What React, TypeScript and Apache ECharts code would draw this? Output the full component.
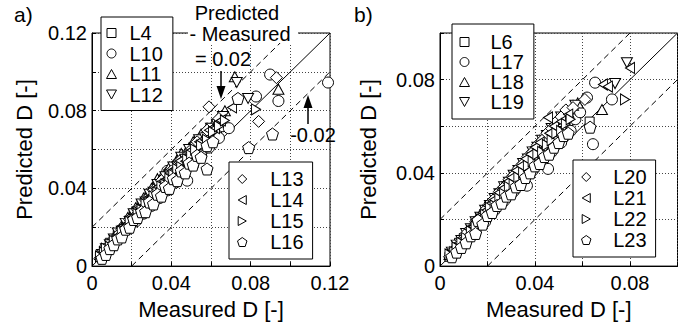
import React, { useEffect, useRef } from "react";
import * as echarts from "echarts";

// ---------- data ----------
const namesA = ["L4", "L10", "L11", "L12", "L13", "L14", "L15", "L16"];
const namesB = ["L6", "L17", "L18", "L19", "L20", "L21", "L22", "L23"];

const L4 = [[0.004,0.005],[0.005,0.006],[0.006,0.008],[0.008,0.009],[0.009,0.012],[0.011,0.013],[0.013,0.016],[0.015,0.018],[0.017,0.021],[0.019,0.022],[0.021,0.027],[0.023,0.027],[0.025,0.032],[0.027,0.031],[0.029,0.036],[0.031,0.037],[0.033,0.040],[0.035,0.041],[0.037,0.045],[0.039,0.044],[0.041,0.050],[0.043,0.049],[0.046,0.054],[0.048,0.055],[0.050,0.059],[0.052,0.058],[0.054,0.064],[0.057,0.063],[0.060,0.069],[0.063,0.070]];
const L10 = [[0.005,0.005],[0.006,0.006],[0.007,0.008],[0.009,0.009],[0.010,0.012],[0.012,0.013],[0.014,0.016],[0.016,0.020],[0.018,0.019],[0.020,0.024],[0.022,0.023],[0.024,0.028],[0.026,0.027],[0.028,0.032],[0.030,0.031],[0.032,0.036],[0.034,0.035],[0.036,0.040],[0.038,0.039],[0.038,0.049],[0.040,0.044],[0.042,0.043],[0.044,0.048],[0.046,0.047],[0.048,0.044],[0.049,0.053],[0.051,0.052],[0.053,0.058],[0.055,0.057],[0.057,0.062],[0.059,0.061],[0.061,0.067],[0.064,0.066],[0.066,0.072],[0.069,0.071],[0.0827,0.0873],[0.0898,0.0986],[0.094,0.085],[0.119,0.0945]];
const L11 = [[0.004,0.006],[0.006,0.008],[0.008,0.010],[0.010,0.013],[0.012,0.016],[0.014,0.019],[0.016,0.021],[0.018,0.025],[0.020,0.027],[0.022,0.030],[0.024,0.031],[0.026,0.035],[0.028,0.037],[0.030,0.040],[0.032,0.041],[0.033,0.045],[0.035,0.046],[0.037,0.048],[0.039,0.051],[0.041,0.052],[0.043,0.055],[0.045,0.058],[0.047,0.058],[0.049,0.061],[0.051,0.064],[0.053,0.065],[0.055,0.068],[0.058,0.071],[0.061,0.073],[0.064,0.077],[0.067,0.080],[0.072,0.0975],[0.094,0.091]];
const L12 = [[0.005,0.006],[0.007,0.009],[0.009,0.011],[0.011,0.014],[0.013,0.017],[0.015,0.018],[0.017,0.022],[0.019,0.023],[0.021,0.027],[0.023,0.028],[0.025,0.032],[0.027,0.033],[0.029,0.037],[0.031,0.038],[0.033,0.042],[0.035,0.042],[0.037,0.046],[0.039,0.047],[0.041,0.051],[0.043,0.051],[0.045,0.056],[0.047,0.055],[0.049,0.060],[0.052,0.061],[0.054,0.065],[0.057,0.066],[0.060,0.071],[0.063,0.073],[0.066,0.077],[0.073,0.0945],[0.0787,0.0863]];
const L13 = [[0.004,0.004],[0.005,0.007],[0.007,0.009],[0.009,0.010],[0.011,0.014],[0.013,0.016],[0.015,0.019],[0.017,0.020],[0.019,0.024],[0.021,0.025],[0.023,0.029],[0.025,0.029],[0.027,0.034],[0.029,0.034],[0.031,0.039],[0.033,0.039],[0.035,0.044],[0.037,0.043],[0.040,0.049],[0.042,0.048],[0.044,0.054],[0.046,0.053],[0.049,0.059],[0.051,0.059],[0.053,0.064],[0.056,0.064],[0.058,0.070],[0.061,0.070],[0.064,0.076],[0.059,0.082],[0.084,0.0745],[0.093,0.097]];
const L14 = [[0.005,0.007],[0.006,0.006],[0.008,0.009],[0.010,0.011],[0.012,0.015],[0.014,0.016],[0.016,0.020],[0.018,0.022],[0.020,0.025],[0.022,0.026],[0.024,0.030],[0.026,0.031],[0.028,0.035],[0.030,0.036],[0.032,0.040],[0.034,0.040],[0.036,0.044],[0.038,0.045],[0.040,0.049],[0.042,0.050],[0.044,0.054],[0.047,0.054],[0.049,0.059],[0.052,0.060],[0.054,0.064],[0.057,0.065],[0.059,0.070],[0.062,0.071],[0.065,0.075],[0.0706,0.0817]];
const L15 = [[0.004,0.005],[0.006,0.007],[0.007,0.009],[0.009,0.010],[0.011,0.013],[0.013,0.014],[0.015,0.018],[0.017,0.019],[0.019,0.023],[0.021,0.024],[0.023,0.027],[0.025,0.029],[0.027,0.032],[0.029,0.033],[0.031,0.036],[0.033,0.038],[0.035,0.041],[0.037,0.042],[0.039,0.045],[0.041,0.047],[0.043,0.050],[0.045,0.051],[0.048,0.055],[0.050,0.057],[0.052,0.060],[0.055,0.062],[0.058,0.065],[0.061,0.069],[0.064,0.072],[0.067,0.075],[0.0827,0.0807]];
const L16 = [[0.005,0.004],[0.007,0.006],[0.009,0.009],[0.011,0.011],[0.013,0.014],[0.015,0.015],[0.017,0.019],[0.019,0.020],[0.021,0.024],[0.023,0.025],[0.025,0.028],[0.027,0.028],[0.029,0.033],[0.031,0.032],[0.033,0.037],[0.035,0.036],[0.037,0.041],[0.039,0.040],[0.041,0.045],[0.043,0.044],[0.045,0.049],[0.047,0.048],[0.049,0.053],[0.051,0.052],[0.053,0.057],[0.055,0.056],[0.058,0.050],[0.058,0.062],[0.061,0.064],[0.0736,0.0863],[0.079,0.061],[0.091,0.068]];

const L6 = [[0.004,0.004],[0.005,0.006],[0.007,0.008],[0.008,0.010],[0.010,0.012],[0.012,0.014],[0.014,0.016],[0.016,0.019],[0.018,0.020],[0.020,0.024],[0.022,0.025],[0.024,0.029],[0.026,0.030],[0.028,0.034],[0.030,0.034],[0.032,0.038],[0.034,0.039],[0.036,0.043],[0.038,0.044],[0.040,0.048],[0.042,0.049],[0.044,0.053],[0.046,0.054],[0.048,0.057],[0.050,0.058],[0.052,0.062],[0.054,0.062],[0.056,0.066],[0.058,0.066],[0.063,0.062]];
const L17 = [[0.005,0.005],[0.006,0.006],[0.008,0.008],[0.009,0.010],[0.011,0.011],[0.013,0.015],[0.015,0.015],[0.017,0.019],[0.019,0.019],[0.021,0.023],[0.023,0.024],[0.025,0.028],[0.027,0.028],[0.029,0.033],[0.031,0.032],[0.033,0.037],[0.035,0.036],[0.037,0.041],[0.039,0.041],[0.041,0.046],[0.043,0.045],[0.045,0.050],[0.047,0.049],[0.049,0.055],[0.051,0.053],[0.053,0.059],[0.055,0.058],[0.057,0.063],[0.059,0.066],[0.0366,0.0345],[0.0455,0.0417],[0.0619,0.0723],[0.0644,0.0523],[0.0653,0.0787],[0.0724,0.0715]];
const L18 = [[0.004,0.005],[0.006,0.008],[0.008,0.010],[0.010,0.013],[0.012,0.015],[0.014,0.018],[0.016,0.020],[0.018,0.024],[0.020,0.025],[0.022,0.029],[0.024,0.030],[0.026,0.034],[0.028,0.035],[0.030,0.039],[0.032,0.040],[0.034,0.044],[0.036,0.045],[0.038,0.049],[0.040,0.050],[0.042,0.054],[0.044,0.055],[0.046,0.058],[0.048,0.060],[0.050,0.062],[0.052,0.064],[0.054,0.066],[0.056,0.069],[0.058,0.070],[0.0682,0.0672]];
const L19 = [[0.005,0.006],[0.007,0.009],[0.009,0.011],[0.011,0.014],[0.013,0.016],[0.015,0.019],[0.017,0.021],[0.019,0.024],[0.021,0.026],[0.023,0.029],[0.025,0.031],[0.027,0.034],[0.029,0.036],[0.031,0.039],[0.033,0.041],[0.035,0.044],[0.037,0.046],[0.039,0.049],[0.041,0.051],[0.043,0.054],[0.045,0.056],[0.047,0.059],[0.049,0.061],[0.051,0.064],[0.054,0.066],[0.057,0.069],[0.0737,0.0783],[0.0787,0.0872]];
const L20 = [[0.004,0.004],[0.005,0.006],[0.007,0.008],[0.009,0.011],[0.011,0.014],[0.013,0.016],[0.015,0.019],[0.017,0.021],[0.019,0.024],[0.021,0.027],[0.023,0.029],[0.025,0.032],[0.027,0.034],[0.029,0.037],[0.031,0.039],[0.033,0.042],[0.035,0.044],[0.037,0.047],[0.039,0.049],[0.041,0.052],[0.043,0.054],[0.045,0.057],[0.047,0.059],[0.049,0.062],[0.051,0.064],[0.053,0.067],[0.056,0.068],[0.061,0.0715]];
const L21 = [[0.005,0.007],[0.006,0.006],[0.008,0.010],[0.010,0.012],[0.012,0.016],[0.014,0.017],[0.016,0.021],[0.018,0.023],[0.020,0.026],[0.022,0.028],[0.024,0.031],[0.026,0.033],[0.028,0.036],[0.030,0.038],[0.032,0.041],[0.034,0.043],[0.036,0.046],[0.038,0.048],[0.040,0.051],[0.042,0.053],[0.0455,0.0638],[0.046,0.057],[0.048,0.060],[0.051,0.062],[0.054,0.065],[0.0686,0.0779],[0.0707,0.077],[0.080,0.085]];
const L22 = [[0.004,0.005],[0.006,0.006],[0.007,0.008],[0.009,0.010],[0.011,0.012],[0.013,0.015],[0.015,0.017],[0.017,0.020],[0.019,0.022],[0.021,0.025],[0.023,0.026],[0.025,0.029],[0.027,0.031],[0.029,0.034],[0.031,0.035],[0.033,0.038],[0.035,0.040],[0.037,0.043],[0.039,0.045],[0.041,0.048],[0.043,0.049],[0.045,0.052],[0.047,0.054],[0.049,0.057],[0.051,0.058],[0.053,0.061],[0.055,0.063],[0.0779,0.0715]];
const L23 = [[0.005,0.004],[0.007,0.006],[0.009,0.008],[0.011,0.010],[0.013,0.013],[0.015,0.014],[0.016,0.0196],[0.018,0.018],[0.020,0.0217],[0.022,0.023],[0.024,0.026],[0.026,0.027],[0.028,0.030],[0.030,0.031],[0.032,0.034],[0.034,0.035],[0.036,0.038],[0.038,0.040],[0.040,0.043],[0.042,0.044],[0.044,0.047],[0.046,0.048],[0.048,0.051],[0.050,0.053],[0.052,0.056],[0.054,0.057],[0.0632,0.0596]];

const dataA = [L4, L10, L11, L12, L13, L14, L15, L16];
const dataB = [L6, L17, L18, L19, L20, L21, L22, L23];

// reference lines (Predicted - Measured = 0, +0.02, -0.02)
const diagA = [[0, 0], [0.12, 0.12]];
const upperA = [[0, 0.02], [0.1, 0.12]];
const lowerA = [[0.02, 0], [0.12, 0.1]];
const diagB = [[0, 0], [0.1, 0.1]];
const upperB = [[0, 0.02], [0.08, 0.1]];
const lowerB = [[0.02, 0], [0.1, 0.08]];

const maxA = 0.12;
const maxB = 0.1;
const gridStep = 0.02;

// ---------- styles ----------
const FONT = "'Liberation Sans', Arial, Helvetica, sans-serif";
const symbols = [
  { symbol: "path://M0,0L10,0L10,10L0,10Z", size: 9 },
  { symbol: "circle", size: 11 },
  { symbol: "path://M5,0L10,9L0,9Z", size: [11, 10] },
  { symbol: "path://M0,0L10,0L5,9Z", size: [11, 10] },
  { symbol: "path://M5,0L10,5L5,10L0,5Z", size: 12 },
  { symbol: "path://M9,0L9,10L0,5Z", size: [9, 11] },
  { symbol: "path://M0,0L0,10L9,5Z", size: [9, 11] },
  { symbol: "path://M5,0L10,3.6L8.1,9.5L1.9,9.5L0,3.6Z", size: 12 },
];

const tickFmt = (v: number) => {
  if (Math.abs(v) < 1e-9) return "0";
  const k = Math.round(v / 0.02);
  return k % 2 === 0 ? v.toFixed(2) : "";
};

function makeAxis(gridIndex: number, max: number, isX: boolean) {
  return {
    gridIndex,
    type: "value",
    min: 0,
    max,
    interval: gridStep,
    name: isX ? "Measured D [-]" : "Predicted D [-]",
    nameLocation: "middle",
    nameGap: isX ? 23 : gridIndex === 0 ? 57 : 61,
    nameTextStyle: { fontSize: 22, color: "#000", fontFamily: FONT },
    axisLine: { show: true, lineStyle: { color: "#000", width: 1 } },
    axisTick: { show: true, inside: true, length: 4, lineStyle: { color: "#000" } },
    axisLabel: {
      formatter: tickFmt,
      fontSize: 20,
      color: "#000",
      fontFamily: FONT,
      margin: isX ? 7 : 5,
      showMaxLabel: true,
      showMinLabel: true,
    },
    splitLine: { show: true, lineStyle: { color: "#444", type: [1, 2], width: 1 } },
  };
}

function refLine(data: number[][], axis: number, dashed: boolean) {
  return {
    type: "line",
    xAxisIndex: axis,
    yAxisIndex: axis,
    data,
    showSymbol: false,
    symbol: "none",
    silent: true,
    z: 1,
    lineStyle: { color: "#000", width: 1, type: dashed ? [6, 4] : "solid" },
  };
}

function scatterSeries(names: string[], data: number[][][], axis: number) {
  return names.map((name, i) => ({
    type: "scatter",
    name,
    xAxisIndex: axis,
    yAxisIndex: axis,
    data: data[i],
    symbol: symbols[i].symbol,
    symbolSize: symbols[i].size,
    itemStyle: { color: "#fff", borderColor: "#000", borderWidth: 1, opacity: 1 },
    z: 3,
  }));
}

function makeLegend(data: string[], left: number, top: number, padding: number[], itemWidth: number, textPadLeft: number, gap: number) {
  return {
    data,
    orient: "vertical",
    left,
    top,
    padding,
    itemWidth,
    itemHeight: 9,
    itemGap: gap,
    selectedMode: false,
    backgroundColor: "#fff",
    borderColor: "#000",
    borderWidth: 1,
    borderRadius: 0,
    symbolKeepAspect: true,
    itemStyle: { color: "#fff", borderColor: "#000", borderWidth: 1 },
    textStyle: {
      fontSize: 20,
      color: "#000",
      fontFamily: FONT,
      lineHeight: 20,
      padding: [0, 0, 0, textPadLeft],
    },
    z: 10,
  };
}

export default function App() {
  const ref = useRef<HTMLDivElement>(null);
  useEffect(() => {
    if (!ref.current) return;
    const chart = echarts.init(ref.current, undefined, { renderer: "svg" });
    const option: any = {
      animation: false,
      textStyle: { fontFamily: FONT },
      grid: [
        { left: 92, top: 33, width: 238, height: 235, show: true, borderColor: "#000", borderWidth: 1, backgroundColor: "transparent" },
        { left: 440, top: 33, width: 237.5, height: 235, show: true, borderColor: "#000", borderWidth: 1, backgroundColor: "transparent" },
      ],
      xAxis: [makeAxis(0, maxA, true), makeAxis(1, maxB, true)],
      yAxis: [makeAxis(0, maxA, false), makeAxis(1, maxB, false)],
      legend: [
        makeLegend(namesA.slice(0, 4), 101, 17, [6, 10, 6, 5], 26, 0, 0.5),
        makeLegend(namesA.slice(4), 229, 162, [7, 9, 7, 8], 26, 10, 1),
        makeLegend(namesB.slice(0, 4), 452, 24, [8, 10, 7, 7], 26, 8, 0),
        makeLegend(namesB.slice(4), 573, 160, [7, 9, 7, 8], 28, 8, 1),
      ],
      series: [
        refLine(upperA, 0, true),
        refLine(lowerA, 0, true),
        refLine(diagA, 0, false),
        refLine(upperB, 1, true),
        refLine(lowerB, 1, true),
        refLine(diagB, 1, false),
        ...scatterSeries(namesA, dataA, 0),
        ...scatterSeries(namesB, dataB, 1),
      ],
      graphic: [
        { type: "text", left: 14, top: 4, z: 100, style: { text: "a)", fontSize: 21, fill: "#000", fontFamily: FONT } },
        { type: "text", left: 354, top: 4, z: 100, style: { text: "b)", fontSize: 21, fill: "#000", fontFamily: FONT } },
        { type: "rect", z: 99, shape: { x: 188, y: 25, width: 110, height: 18 }, style: { fill: "#fff" } },
        { type: "text", x: 237, y: 13, z: 100, style: { text: "Predicted", fontSize: 20, fill: "#000", fontFamily: FONT, align: "center", verticalAlign: "middle" } },
        { type: "text", x: 240, y: 34, z: 100, style: { text: "- Measured", fontSize: 20, fill: "#000", fontFamily: FONT, align: "center", verticalAlign: "middle" } },
        { type: "text", x: 223, y: 59, z: 100, style: { text: "= 0.02", fontSize: 20, fill: "#000", fontFamily: FONT, align: "center", verticalAlign: "middle" } },
        { type: "line", z: 100, shape: { x1: 221, y1: 71, x2: 221, y2: 90 }, style: { stroke: "#000", lineWidth: 1.5 } },
        { type: "polygon", z: 100, shape: { points: [[216.5, 86], [225.5, 86], [221, 99]] }, style: { fill: "#000" } },
        { type: "text", x: 313, y: 135, z: 100, style: { text: "-0.02", fontSize: 20, fill: "#000", fontFamily: FONT, align: "center", verticalAlign: "middle" } },
        { type: "line", z: 100, shape: { x1: 308, y1: 124, x2: 308, y2: 104 }, style: { stroke: "#000", lineWidth: 1.5 } },
        { type: "polygon", z: 100, shape: { points: [[303.5, 108], [312.5, 108], [308, 95]] }, style: { fill: "#000" } },
      ],
    };
    chart.setOption(option);
    return () => chart.dispose();
  }, []);
  return (
    <div
      ref={ref}
      style={{ position: "fixed", left: 0, top: 0, width: 693, height: 325, background: "#fff" }}
    />
  );
}
